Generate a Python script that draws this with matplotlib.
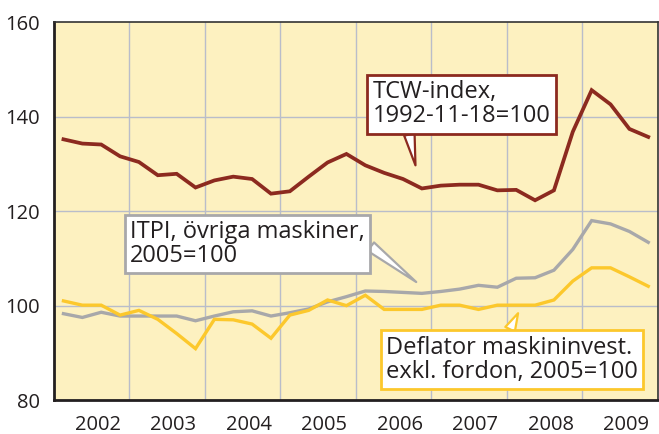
import numpy as np
import matplotlib
matplotlib.use('Agg')
import matplotlib.pyplot as plt

plt.rcParams['font.family'] = ['Open Sans', 'DejaVu Sans']

# quarterly data 2002Q1 .. 2009Q4
years = [2002, 2003, 2004, 2005, 2006, 2007, 2008, 2009]

tcw = [135.2, 134.3, 134.1, 131.6,
       130.4, 127.6, 127.9, 125.0,
       126.5, 127.3, 126.8, 123.7,
       124.2, 127.3, 130.3, 132.1,
       129.7, 128.1, 126.8, 124.8,
       125.4, 125.6, 125.6, 124.4,
       124.5, 122.3, 124.4, 136.8,
       145.6, 142.6, 137.4, 135.7]

itpi = [98.3, 97.5, 98.6, 97.8,
        97.8, 97.8, 97.8, 96.8,
        97.8, 98.7, 98.9, 97.8,
        98.5, 99.3, 100.8, 101.9,
        103.1, 103.0, 102.8, 102.6,
        103.0, 103.5, 104.3, 103.9,
        105.8, 105.9, 107.5, 111.9,
        118.0, 117.3, 115.7, 113.4]

deflator = [101.0, 100.1, 100.1, 98.0,
            99.0, 97.1, 94.1, 90.9,
            97.1, 97.0, 96.1, 93.1,
            98.0, 99.0, 101.2, 100.0,
            102.2, 99.2, 99.2, 99.2,
            100.1, 100.1, 99.2, 100.1,
            100.1, 100.1, 101.2, 105.2,
            108.0, 108.0, 106.1, 104.1]

x = np.arange(len(tcw)) / 4 + years[0] + 0.125

c_tcw = '#8c2a1f'
c_itpi = '#a8a8aa'
c_defl = '#fcc82c'
c_text = '#231f20'

fig = plt.figure(figsize=(6.59, 4.34), dpi=100)
ax = fig.add_axes([0.082, 0.078, 0.916, 0.871])
ax.set_facecolor('#fdf1c0')

ax.plot(x, itpi, '-', c=c_itpi, lw=2.4, solid_joinstyle='miter', zorder=3)
ax.plot(x, deflator, '-', c=c_defl, lw=2.4, solid_joinstyle='miter', zorder=4)
ax.plot(x, tcw, '-', c=c_tcw, lw=2.7, solid_joinstyle='miter', zorder=5)

ax.set_xlim(years[0], years[-1] + 1)
ax.set_ylim(80, 160)

# grid
for yy in [100, 120, 140]:
   ax.axhline(yy, c='#b9bdca', lw=1.0, zorder=1)
for yr in years[1:]:
   ax.axvline(yr, c='#b9bdca', lw=1.0, zorder=1)

ax.set_yticks([80, 100, 120, 140, 160])
ax.set_xticks([yr + 0.58 for yr in years])
ax.set_xticklabels([str(yr) for yr in years])
ax.tick_params(axis='both', length=0, labelsize=14.5, colors=c_text)
ax.tick_params(axis='y', pad=10)
ax.tick_params(axis='x', pad=11)

for s in ['top', 'right']:
   ax.spines[s].set_linewidth(1.2)
   ax.spines[s].set_color('#333333')
for s in ['left', 'bottom']:
   ax.spines[s].set_linewidth(2.0)
   ax.spines[s].set_color('#231f20')

def callout(text, tip, center, color, relpos):
   ax.annotate(text, xy=tip, xytext=center, ha='center', va='center',
         multialignment='left',
         fontsize=17, color=c_text, linespacing=1.0, zorder=10,
         bbox=dict(boxstyle='square,pad=0.22', fc='white', ec=color, lw=2.0),
         arrowprops=dict(arrowstyle='wedge,tail_width=0.45', fc='white',
                         ec=color, lw=1.6, relpos=relpos,
                         shrinkA=0, shrinkB=0))

callout('TCW-index,\n1992-11-18=100', (2006.79, 129.7), (2007.40, 142.6),
        c_tcw, (0.2, 0.0))
callout('ITPI, övriga maskiner,\n2005=100', (2006.80, 105.0), (2004.56, 113.0),
        c_itpi, (1.0, 0.55))
callout('Deflator maskininvest.\nexkl. fordon, 2005=100', (2008.15, 98.4),
        (2008.07, 88.6), c_defl, (0.48, 1.0))

fig.savefig('out.png', dpi=100)
